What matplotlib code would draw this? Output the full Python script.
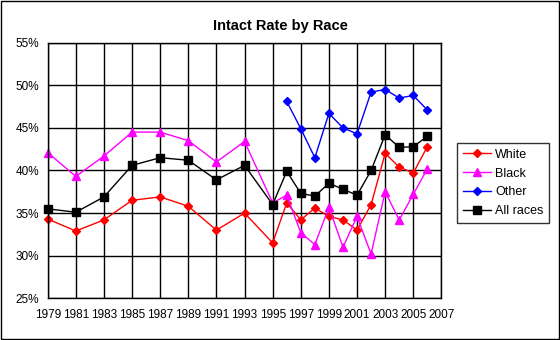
import matplotlib
matplotlib.use("Agg")
import matplotlib.pyplot as plt
from matplotlib.ticker import FuncFormatter, MultipleLocator
from matplotlib.patches import Rectangle

plt.rcParams['font.family'] = ['Liberation Sans', 'DejaVu Sans']

# data (percent)
years = [1979, 1981, 1983, 1985, 1987, 1989, 1991, 1993, 1995,
         1996, 1997, 1998, 1999, 2000, 2001, 2002, 2003, 2004, 2005, 2006]
white = [34.3, 32.9, 34.2, 36.5, 36.9, 35.8, 33.0, 35.0, 31.5,
         36.2, 34.2, 35.6, 34.6, 34.2, 33.0, 36.0, 42.0, 40.4, 39.7, 42.8]
black = [42.1, 39.3, 41.7, 44.5, 44.5, 43.5, 41.0, 43.4, 36.2,
         37.1, 32.7, 31.3, 35.7, 31.0, 34.6, 30.2, 37.5, 34.2, 37.2, 40.2]
other_years = [1996, 1997, 1998, 1999, 2000, 2001, 2002, 2003, 2004, 2005, 2006]
other = [48.1, 44.9, 41.5, 46.7, 45.0, 44.3, 49.2, 49.5, 48.5, 48.8, 47.1]
all_races = [35.5, 35.1, 36.9, 40.6, 41.5, 41.2, 38.9, 40.6, 36.0,
             39.9, 37.3, 37.0, 38.5, 37.8, 37.1, 40.0, 44.2, 42.7, 42.8, 44.0]
tick_years = list(range(1979, 2008, 2))

fig = plt.figure(figsize=(5.6, 3.4), dpi=100)
fig.patch.set_facecolor('white')
fig.patches.append(Rectangle((0.001, 0.002), 0.997, 0.995, transform=fig.transFigure,
                             fill=False, edgecolor='black', linewidth=1))

ax = fig.add_axes([0.0852, 0.1226, 0.703, 0.752])

ax.plot(years, white, color='#FF0000', marker='D', markersize=4.5, linewidth=1,
        label='White', clip_on=False)
ax.plot(years, black, color='#FF00FF', marker='^', markersize=6, linewidth=1,
        label='Black', clip_on=False)
ax.plot(other_years, other, color='#0000FF', marker='D', markersize=4.5, linewidth=1,
        label='Other', clip_on=False)
ax.plot(years, all_races, color='black', marker='s', markersize=5.5, linewidth=1,
        label='All races', clip_on=False)

ax.set_xlim(1979, 2007)
ax.set_ylim(25, 55)
ax.set_xticks(tick_years)
ax.yaxis.set_major_locator(MultipleLocator(5))
ax.yaxis.set_major_formatter(FuncFormatter(lambda v, p: '%d%%' % v))
ax.grid(True, color='black', linewidth=1)
ax.set_axisbelow(True)
ax.tick_params(length=0, labelsize=8.5, pad=8)
ax.tick_params(axis='y', pad=6)
for s in ax.spines.values():
    s.set_linewidth(1)
    s.set_color('black')

fig.text(0.5, 0.923, 'Intact Rate by Race', ha='center', va='center',
         fontsize=10.5, fontweight='bold')

leg = fig.legend(loc='upper left', bbox_to_anchor=(457 / 560, 1 - 143 / 340),
                 fontsize=9, frameon=True, fancybox=False, edgecolor='black',
                 handlelength=2.3, handletextpad=0.3, labelspacing=0.55,
                 borderpad=0.45, borderaxespad=0)
leg.get_frame().set_linewidth(1)

fig.savefig('out.png', dpi=100)
